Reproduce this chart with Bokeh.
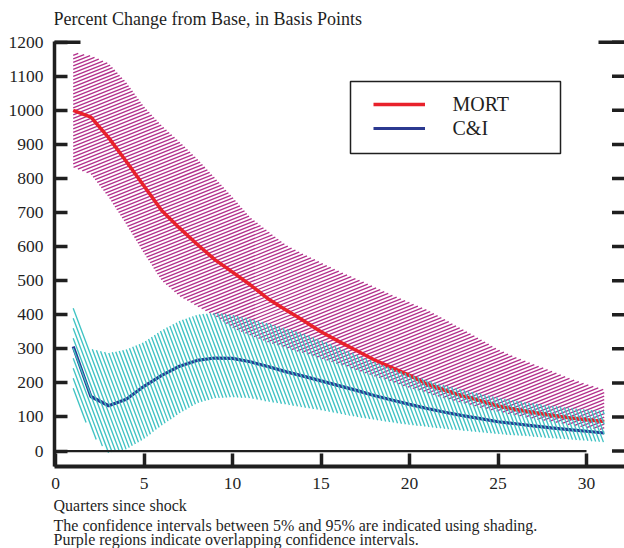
import numpy as np
from bokeh.plotting import figure
from bokeh.models import (FixedTicker, Range1d, Legend, LegendItem, Title,
                          BoxAnnotation, Label)
from bokeh.embed import file_html
from bokeh.resources import INLINE

# ---------------- data ----------------
quarters = list(range(1, 32))
mort = [1000, 980, 920, 850, 778, 706, 655, 607, 562, 525, 488, 447, 415, 383, 350,
        322, 295, 268, 245, 222, 196, 178, 162, 148, 132, 122, 113, 105, 98, 92, 87]
mort_hi = [1170, 1160, 1138, 1082, 1011, 955, 908, 858, 802, 745, 686, 645, 605, 578, 553,
           528, 505, 482, 458, 436, 414, 386, 357, 328, 298, 275, 255, 235, 214, 196, 180]
mort_lo = [833, 812, 745, 665, 580, 500, 455, 425, 397, 362, 340, 320, 303, 288, 272,
           255, 238, 220, 203, 186, 170, 155, 141, 128, 116, 105, 95, 86, 77, 69, 62]
ci = [307, 160, 133, 152, 190, 222, 249, 266, 273, 272, 262, 248, 233, 220, 206,
      192, 178, 163, 150, 137, 125, 114, 104, 95, 86, 80, 74, 68, 63, 58, 53]
ci_hi = [440, 300, 288, 298, 320, 355, 382, 400, 406, 400, 388, 375, 360, 345, 325,
         305, 283, 262, 243, 225, 208, 193, 180, 168, 157, 148, 140, 133, 127, 122, 118]
ci_lo = [173, 50, -5, 5, 35, 75, 110, 140, 155, 158, 155, 145, 137, 128, 120,
         110, 100, 92, 84, 77, 71, 65, 60, 55, 50, 46, 42, 38, 34, 30, 26]
x_ticks = [0, 5, 10, 15, 20, 25, 30]
y_ticks = list(range(0, 1300, 100))
series_names = ["MORT", "C&I"]
title_text = "Percent Change from Base, in Basis Points"
notes = ["Quarters since shock",
         "The confidence intervals between 5% and 95% are indicated using shading.",
         "Purple regions indicate overlapping confidence intervals."]

# ---------------- styling / geometry ----------------
FONT = "Liberation Serif"
INK = "#1f1f1f"
RED = "#e8212b"
BLUE = "#2b3990"
MAGENTA = "#b3308c"
CYAN = "#3fc3c3"

LEFT, TOP, BOTTOM = 54, 5, 466          # frame edges on the page (px)
FW, FH = 570, BOTTOM - TOP
PX_X, PX_Y = 17.7, 0.3407               # pixels per quarter / per basis point
X0 = -1 / PX_X
X1 = X0 + FW / PX_X
Y1 = y_ticks[-1] + (41.7 - TOP) / PX_Y
Y0 = Y1 - FH / PX_Y
ppx = FW / (X1 - X0)
ppy = FH / (Y1 - Y0)


def dx(px):
    return X0 + (px - LEFT) / ppx


def dy(py):
    return Y1 - (py - TOP) / ppy


p = figure(frame_width=FW, frame_height=FH,
           x_range=Range1d(X0, X1), y_range=Range1d(Y0, Y1),
           output_backend="svg", toolbar_location=None,
           min_border_left=LEFT, min_border_right=0, min_border_top=TOP,
           min_border_bottom=82, outline_line_color=None,
           background_fill_color="white", border_fill_color="white")
p.grid.visible = False

# axes
xa = p.xaxis[0]
xa.ticker = FixedTicker(ticks=x_ticks)
xa.axis_line_width = 4
xa.axis_line_color = INK
xa.major_tick_in = 13
xa.major_tick_out = 0
xa.major_tick_line_width = 3.5
xa.major_tick_line_color = INK
xa.minor_tick_line_color = None
xa.major_label_text_font = FONT
xa.major_label_text_font_size = "17.5px"
xa.major_label_text_color = INK
xa.major_label_standoff = 11

ya = p.yaxis[0]
ya.ticker = FixedTicker(ticks=y_ticks)
ya.bounds = (Y0, y_ticks[-1] + 3)
ya.axis_line_width = 3.5
ya.axis_line_color = INK
ya.major_tick_in = 13
ya.major_tick_out = 0
ya.major_tick_line_width = 3.5
ya.major_tick_line_color = INK
ya.minor_tick_line_color = None
ya.major_label_text_font = FONT
ya.major_label_text_font_size = "17.5px"
ya.major_label_text_color = INK
ya.major_label_standoff = 11


def hatch_segments(xq, lo, hi, slope_px, vspace_px, n=6001):
    """Straight hatch strokes (screen slope slope_px, vertical pitch vspace_px)
    clipped to the band between lo and hi."""
    a = slope_px * ppx / ppy
    dc = vspace_px / ppy
    xs = np.linspace(xq[0], xq[-1], n)
    yl = np.interp(xs, xq, lo)
    yh = np.interp(xs, xq, hi)
    k0 = int(np.floor(np.min(yl - a * xs) / dc)) - 1
    k1 = int(np.ceil(np.max(yh - a * xs) / dc)) + 1
    sx, sy = [], []
    for k in range(k0, k1 + 1):
        c = k * dc
        y = c + a * xs
        inside = (y >= yl) & (y <= yh)
        if not inside.any():
            continue
        d = np.diff(inside.astype(int))
        starts = list(np.where(d == 1)[0] + 1)
        ends = list(np.where(d == -1)[0])
        if inside[0]:
            starts = [0] + starts
        if inside[-1]:
            ends = ends + [len(xs) - 1]
        for s, e in zip(starts, ends):
            sx.append([float(xs[s]), float(xs[e])])
            sy.append([float(c + a * xs[s]), float(c + a * xs[e])])
    return sx, sy


# MORT confidence band (shallow "/" hatch)
mx, my = hatch_segments(quarters, mort_lo, mort_hi, 0.4, 3.5)
p.multi_line(xs=mx, ys=my, line_color=MAGENTA, line_width=1.35, line_cap="butt")

r_mort = p.line(quarters, mort, line_color=RED, line_width=3.5)
r_ci = p.line(quarters, ci, line_color=BLUE, line_width=3.2)

# C&I confidence band (steep "\" hatch)
cx, cy = hatch_segments(quarters, ci_lo, ci_hi, -1 / 0.375, 10.0, n=12001)
p.multi_line(xs=cx, ys=cy, line_color=CYAN, line_width=1.35, line_cap="butt")

# zero line
p.segment(x0=[x_ticks[0]], x1=[x_ticks[-1]], y0=[0], y1=[0],
          line_color=INK, line_width=2.3)

# right-hand ticks and longer top ticks
rt = 12.5 / ppx
p.segment(x0=[X1 - rt] * len(y_ticks), x1=[X1 + 0.3] * len(y_ticks),
          y0=y_ticks, y1=y_ticks, line_color=INK, line_width=3.5)
lt = 26 / ppx
p.segment(x0=[X0 - 0.2, X1 - lt], x1=[X0 + lt, X1 + 0.3],
          y0=[y_ticks[-1]] * 2, y1=[y_ticks[-1]] * 2,
          line_color=INK, line_width=3.5)

# title (drawn inside the tall frame, above the 1200 level)
p.add_layout(Label(x=-1, y=BOTTOM - 18.3, x_units="screen", y_units="screen",
                   text=title_text, text_font=FONT, text_font_size="18px",
                   text_color=INK, text_baseline="alphabetic", text_align="left"))

# legend
legend = Legend(items=[LegendItem(label=series_names[0], renderers=[r_mort]),
                       LegendItem(label=series_names[1], renderers=[r_ci])],
                location=(318.5, 326.3), padding=0, spacing=1, margin=0,
                glyph_width=52, glyph_height=20, label_height=20,
                label_standoff=28, label_text_font=FONT,
                label_text_font_size="20px", label_text_color=INK,
                border_line_color=None, background_fill_alpha=0)
p.add_layout(legend)
p.add_layout(BoxAnnotation(left=dx(350), right=dx(560), top=dy(81), bottom=dy(153),
                           fill_color=None, line_color=INK, line_width=1.5,
                           line_alpha=1))

# notes below the axis
note_gap = [7, -6, -3]
for t, g in zip(notes, note_gap):
    p.add_layout(Title(text=t, align="left", offset=-1, standoff=g,
                       text_font=FONT, text_font_size="16px",
                       text_font_style="normal", text_color=INK), "below")

open("out.html", "w").write(file_html(p, INLINE))
